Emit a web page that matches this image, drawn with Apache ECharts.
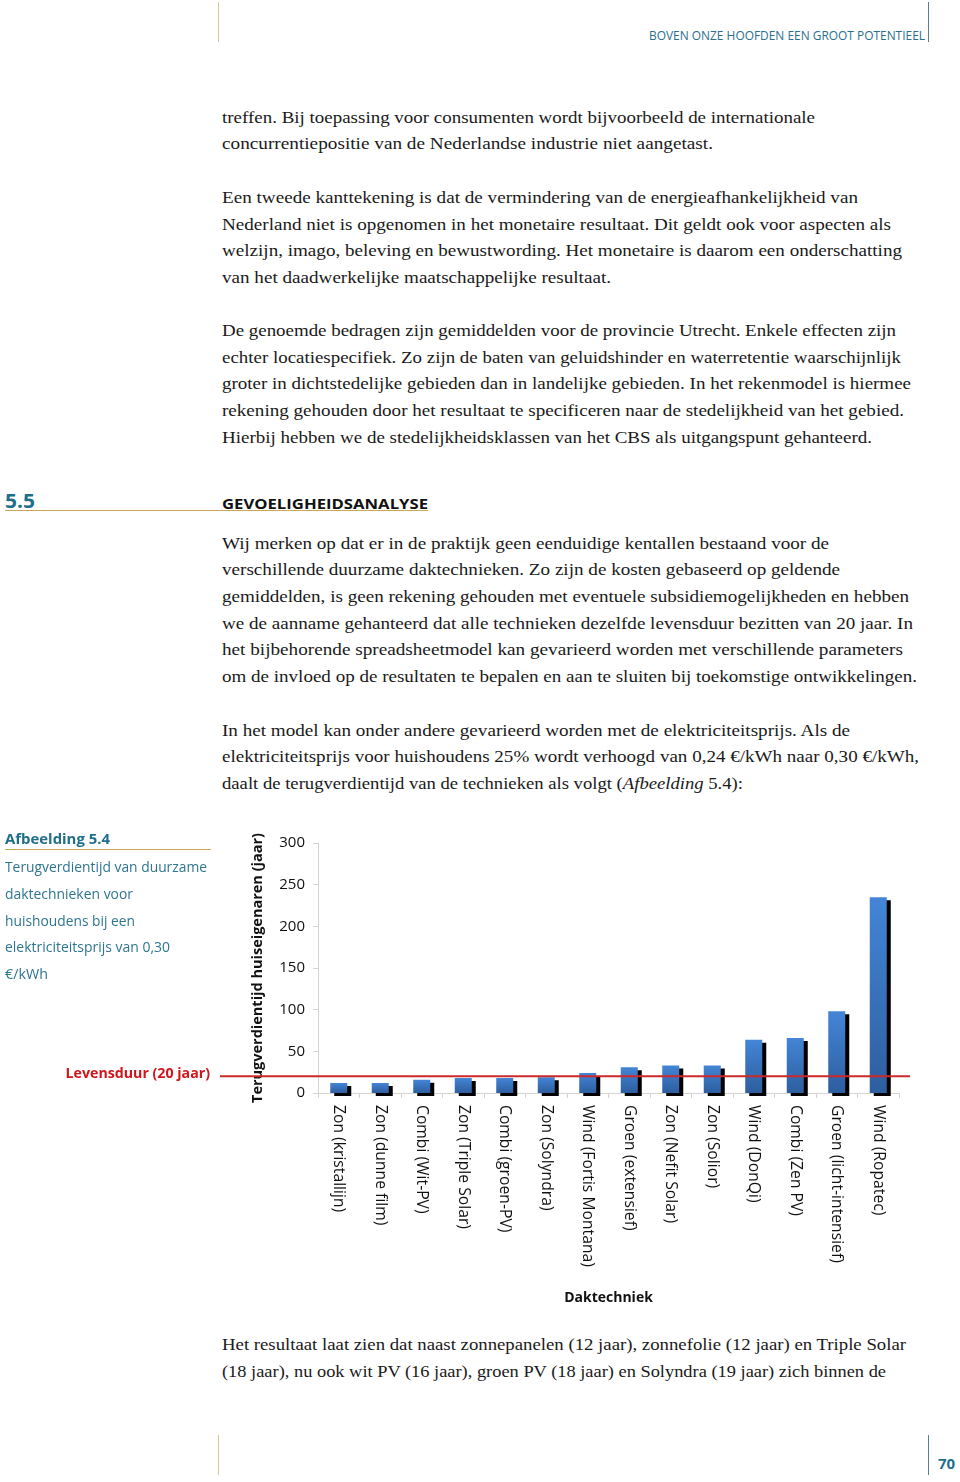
<!DOCTYPE html>
<html>
<head>
<meta charset="utf-8">
<script src="https://cdn.jsdelivr.net/npm/echarts@6/dist/echarts.min.js"></script>
<style>
  html, body { margin: 0; padding: 0; background: #fff; }
  #page { position: relative; width: 960px; height: 1482px; overflow: hidden; background: #fff; }
  .ln { position: absolute; white-space: nowrap; transform-origin: 0 50%; line-height: 20px; height: 20px; }
  .body { font-family: "Liberation Serif", "DejaVu Serif", serif; font-size: 17.5px; color: #1a1a1a; }
  .cap { font-family: "Open Sans", sans-serif; font-size: 14px; color: #2f7591; }
  .vline { position: absolute; width: 1px; }
  #chart { position: absolute; left: 0; top: 815px; width: 960px; height: 510px; }
</style>
</head>
<body>
<div id="page">
  <div class="vline" style="left:218px;top:2px;height:40px;background:#d8c89a;"></div>
  <div class="vline" style="left:928px;top:2px;height:40px;background:#5a7f8c;"></div>
  <div class="ln" data-w="276" style="left:649px;top:26px;font-family:'Open Sans',sans-serif;font-size:12px;color:#2a6f8e;">BOVEN ONZE HOOFDEN EEN GROOT POTENTIEEL</div>

  <div class="ln body" data-w="593" style="left:222px;top:107px;">treffen. Bij toepassing voor consumenten wordt bijvoorbeeld de internationale</div>
  <div class="ln body" data-w="491" style="left:222px;top:133px;">concurrentiepositie van de Nederlandse industrie niet aangetast.</div>

  <div class="ln body" data-w="636" style="left:222px;top:187px;">Een tweede kanttekening is dat de vermindering van de energieafhankelijkheid van</div>
  <div class="ln body" data-w="669" style="left:222px;top:214px;">Nederland niet is opgenomen in het monetaire resultaat. Dit geldt ook voor aspecten als</div>
  <div class="ln body" data-w="680" style="left:222px;top:240px;">welzijn, imago, beleving en bewustwording. Het monetaire is daarom een onderschatting</div>
  <div class="ln body" data-w="389" style="left:222px;top:267px;">van het daadwerkelijke maatschappelijke resultaat.</div>

  <div class="ln body" data-w="674" style="left:222px;top:320px;">De genoemde bedragen zijn gemiddelden voor de provincie Utrecht. Enkele effecten zijn</div>
  <div class="ln body" data-w="679" style="left:222px;top:347px;">echter locatiespecifiek. Zo zijn de baten van geluidshinder en waterretentie waarschijnlijk</div>
  <div class="ln body" data-w="689" style="left:222px;top:373px;">groter in dichtstedelijke gebieden dan in landelijke gebieden. In het rekenmodel is hiermee</div>
  <div class="ln body" data-w="682" style="left:222px;top:400px;">rekening gehouden door het resultaat te specificeren naar de stedelijkheid van het gebied.</div>
  <div class="ln body" data-w="650" style="left:222px;top:427px;">Hierbij hebben we de stedelijkheidsklassen van het CBS als uitgangspunt gehanteerd.</div>

  <div class="ln" data-w="30" style="left:5px;top:491px;font-family:'Open Sans',sans-serif;font-weight:700;font-size:19px;color:#1f6e8c;">5.5</div>
  <div class="ln" data-w="206" style="left:222px;top:493px;font-family:'Open Sans',sans-serif;font-weight:700;font-size:15px;color:#111;">GEVOELIGHEIDSANALYSE</div>
  <div style="position:absolute;left:5px;top:510px;width:423px;height:1px;background:#c9a856;"></div>

  <div class="ln body" data-w="607" style="left:222px;top:533px;">Wij merken op dat er in de praktijk geen eenduidige kentallen bestaand voor de</div>
  <div class="ln body" data-w="618" style="left:222px;top:559px;">verschillende duurzame daktechnieken. Zo zijn de kosten gebaseerd op geldende</div>
  <div class="ln body" data-w="687" style="left:222px;top:586px;">gemiddelden, is geen rekening gehouden met eventuele subsidiemogelijkheden en hebben</div>
  <div class="ln body" data-w="691" style="left:222px;top:613px;">we de aanname gehanteerd dat alle technieken dezelfde levensduur bezitten van 20 jaar. In</div>
  <div class="ln body" data-w="681" style="left:222px;top:639px;">het bijbehorende spreadsheetmodel kan gevarieerd worden met verschillende parameters</div>
  <div class="ln body" data-w="695" style="left:222px;top:666px;">om de invloed op de resultaten te bepalen en aan te sluiten bij toekomstige ontwikkelingen.</div>

  <div class="ln body" data-w="628" style="left:222px;top:720px;">In het model kan onder andere gevarieerd worden met de elektriciteitsprijs. Als de</div>
  <div class="ln body" data-w="697" style="left:222px;top:746px;">elektriciteitsprijs voor huishoudens 25% wordt verhoogd van 0,24 €/kWh naar 0,30 €/kWh,</div>
  <div class="ln body" data-w="521" style="left:222px;top:773px;">daalt de terugverdientijd van de technieken als volgt (<i>Afbeelding</i> 5.4):</div>

  <div id="chart"></div>

  <div class="ln" data-w="105" style="left:5px;top:828px;font-family:'Open Sans',sans-serif;font-weight:700;font-size:15px;color:#1f6e8c;">Afbeelding 5.4</div>
  <div style="position:absolute;left:5px;top:849px;width:206px;height:1px;background:#c9a856;"></div>
  <div class="ln cap" data-w="202" style="left:5px;top:857px;">Terugverdientijd van duurzame</div>
  <div class="ln cap" data-w="128" style="left:5px;top:884px;">daktechnieken voor</div>
  <div class="ln cap" data-w="130" style="left:5px;top:911px;">huishoudens bij een</div>
  <div class="ln cap" data-w="165" style="left:5px;top:937px;">elektriciteitsprijs van 0,30</div>
  <div class="ln cap" data-w="43" style="left:5px;top:964px;">€/kWh</div>

  <div class="ln body" data-w="684" style="left:222px;top:1334px;">Het resultaat laat zien dat naast zonnepanelen (12 jaar), zonnefolie (12 jaar) en Triple Solar</div>
  <div class="ln body" data-w="664" style="left:222px;top:1361px;">(18 jaar), nu ook wit PV (16 jaar), groen PV (18 jaar) en Solyndra (19 jaar) zich binnen de</div>

  <div class="vline" style="left:218px;top:1435px;height:40px;background:#d8c89a;"></div>
  <div class="vline" style="left:928px;top:1435px;height:40px;background:#5a7f8c;"></div>
  <div class="ln" style="left:938px;top:1453px;font-family:'Open Sans',sans-serif;font-weight:700;font-size:15px;color:#1f6e8c;">70</div>
</div>

<script>
// ---- Data ----
var categories = [
  'Zon (kristallijn)', 'Zon (dunne film)', 'Combi (Wit-PV)', 'Zon (Triple Solar)',
  'Combi (groen-PV)', 'Zon (Solyndra)', 'Wind (Fortis Montana)', 'Groen (extensief)',
  'Zon (Nefit Solar)', 'Zon (Solior)', 'Wind (DonQi)', 'Combi (Zen PV)',
  'Groen (licht-intensief)', 'Wind (Ropatec)'
];
var paybackYears = [12, 12, 16, 18, 18, 19, 24, 31, 33, 33, 64, 66, 98, 235];
var lifetimeYears = 20;
var lifetimeLabel = 'Levensduur (20 jaar)';
var yAxisTitle = 'Terugverdientijd huiseigenaren (jaar)';
var xAxisTitle = 'Daktechniek';
var yTicks = { min: 0, max: 300, interval: 50 };

function fitLines() {
  var els = document.querySelectorAll('.ln[data-w]');
  for (var i = 0; i < els.length; i++) {
    var el = els[i];
    el.style.transform = 'none';
    var w = el.getBoundingClientRect().width;
    var t = parseFloat(el.getAttribute('data-w'));
    if (w > 0) el.style.transform = 'scaleX(' + (t / w) + ')';
  }
}
fitLines();

var chart = echarts.init(document.getElementById('chart'), null, { renderer: 'canvas' });
var font = '"Open Sans", sans-serif';
chart.setOption({
  animation: false,
  grid: { left: 318, right: 61, top: 28, bottom: 232, containLabel: false },
  xAxis: {
    type: 'category',
    data: categories,
    name: xAxisTitle,
    nameLocation: 'middle',
    nameGap: 198,
    nameTextStyle: { fontFamily: font, fontWeight: 'bold', fontSize: 14, color: '#111' },
    axisLine: { show: true, lineStyle: { color: '#d4d4d4', width: 1 } },
    axisTick: { show: true, length: 5, interval: 0, lineStyle: { color: '#d4d4d4' } },
    axisLabel: { rotate: -90, interval: 0, margin: 12, fontFamily: font, fontSize: 15.7, color: '#111' }
  },
  yAxis: {
    type: 'value',
    min: yTicks.min, max: yTicks.max, interval: yTicks.interval,
    name: yAxisTitle,
    nameLocation: 'middle',
    nameGap: 53,
    nameTextStyle: { fontFamily: font, fontWeight: 'bold', fontSize: 14.5, color: '#111' },
    axisLine: { show: true, lineStyle: { color: '#d4d4d4', width: 1 } },
    axisTick: { show: true, length: 5, lineStyle: { color: '#d4d4d4' } },
    axisLabel: { margin: 13, fontFamily: font, fontSize: 15, color: '#111' },
    splitLine: { show: false }
  },
  series: [{
    type: 'bar',
    data: paybackYears,
    barWidth: 17,
    itemStyle: {
      color: new echarts.graphic.LinearGradient(0, 0, 0, 1, [
        { offset: 0, color: '#4485d6' },
        { offset: 1, color: '#2d5e9f' }
      ]),
      shadowColor: '#000',
      shadowBlur: 0,
      shadowOffsetX: 4,
      shadowOffsetY: 3
    }
  }]
});

function drawLifetime() {
  var y = chart.convertToPixel({ yAxisIndex: 0 }, lifetimeYears);
  chart.setOption({
    graphic: [
      { type: 'line', shape: { x1: 220, y1: y, x2: 910, y2: y }, style: { stroke: '#cc2a2a', lineWidth: 2 }, z: 100 },
      { type: 'text', x: 210, y: y - 2, style: { text: lifetimeLabel, align: 'right', verticalAlign: 'middle', fill: '#d0161c', font: 'bold 14.2px "Open Sans", sans-serif' }, z: 100 }
    ]
  });
}
drawLifetime();
if (document.fonts && document.fonts.ready) document.fonts.ready.then(function(){ fitLines(); });
</script>
</body>
</html>
